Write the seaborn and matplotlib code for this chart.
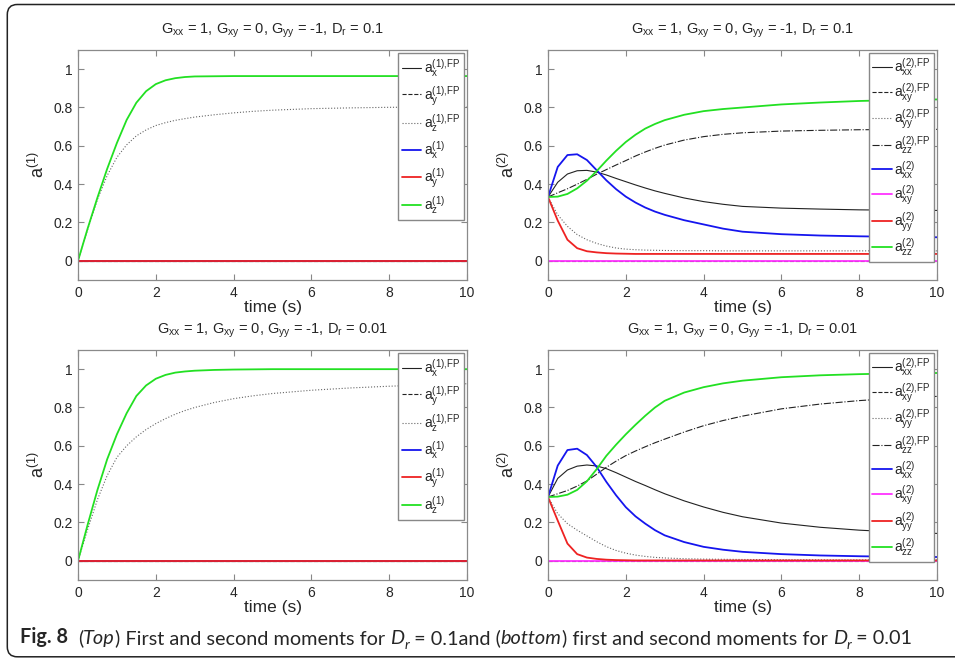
import numpy as np
import seaborn as sns
import matplotlib.pyplot as plt
from matplotlib.patches import FancyBboxPatch

# time samples (s)
t = [0, 0.25, 0.5, 0.75, 1, 1.25, 1.5, 1.75, 2, 2.25, 2.5, 2.75, 3,
     3.5, 4, 4.5, 5, 6, 7, 8, 9, 10]
zeros = [0.0] * len(t)

# first moments, D_r = 0.1
m1_z_fp_01 = [0, 0.165, 0.32, 0.445, 0.54, 0.605, 0.652, 0.683, 0.706, 0.721, 0.733,
              0.742, 0.75, 0.762, 0.772, 0.78, 0.786, 0.794, 0.798, 0.801, 0.802, 0.803]
m1_z_01 = [0, 0.17, 0.33, 0.48, 0.615, 0.735, 0.825, 0.885, 0.922, 0.942, 0.953,
           0.959, 0.962, 0.963, 0.964, 0.964, 0.964, 0.964, 0.964, 0.964, 0.964, 0.964]

# first moments, D_r = 0.01
m1_z_fp_001 = [0, 0.165, 0.32, 0.445, 0.54, 0.6, 0.647, 0.685, 0.716, 0.742, 0.765,
               0.784, 0.8, 0.826, 0.846, 0.861, 0.873, 0.89, 0.902, 0.911, 0.918, 0.924]
m1_z_001 = [0, 0.19, 0.37, 0.53, 0.66, 0.77, 0.86, 0.915, 0.95, 0.97, 0.982,
            0.988, 0.992, 0.996, 0.998, 0.999, 1.0, 1.0, 1.0, 1.0, 1.0, 1.0]

# second moments, D_r = 0.1
m2_xx_fp_01 = [0.333, 0.41, 0.453, 0.47, 0.472, 0.463, 0.448, 0.43, 0.413, 0.396, 0.38,
               0.365, 0.352, 0.328, 0.309, 0.295, 0.284, 0.275, 0.27, 0.266, 0.264, 0.263]
m2_yy_fp_01 = [0.333, 0.24, 0.18, 0.137, 0.11, 0.091, 0.077, 0.067, 0.061, 0.058, 0.056,
               0.055, 0.054, 0.053, 0.053, 0.052, 0.052, 0.052, 0.052, 0.052, 0.052, 0.052]
m2_zz_fp_01 = [0.333, 0.355, 0.376, 0.4, 0.425, 0.452, 0.476, 0.5, 0.523, 0.547, 0.568,
               0.587, 0.604, 0.63, 0.648, 0.66, 0.668, 0.677, 0.681, 0.684, 0.685, 0.686]
m2_xx_01 = [0.333, 0.49, 0.552, 0.556, 0.526, 0.473, 0.42, 0.374, 0.335, 0.304, 0.278,
            0.257, 0.24, 0.212, 0.19, 0.168, 0.152, 0.139, 0.132, 0.128, 0.125, 0.123]
m2_yy_01 = [0.333, 0.21, 0.11, 0.066, 0.05, 0.044, 0.04, 0.038, 0.037, 0.036, 0.036,
            0.036, 0.036, 0.036, 0.036, 0.036, 0.036, 0.036, 0.036, 0.036, 0.036, 0.036]
m2_zz_01 = [0.333, 0.335, 0.349, 0.378, 0.418, 0.468, 0.523, 0.574, 0.62, 0.658, 0.69,
            0.714, 0.734, 0.762, 0.781, 0.792, 0.8, 0.816, 0.826, 0.834, 0.839, 0.842]

# second moments, D_r = 0.01
m2_xx_fp_001 = [0.333, 0.43, 0.474, 0.494, 0.5, 0.495, 0.481, 0.46, 0.437, 0.414, 0.393,
                0.371, 0.35, 0.313, 0.281, 0.253, 0.23, 0.197, 0.175, 0.16, 0.15, 0.143]
m2_yy_fp_001 = [0.333, 0.246, 0.194, 0.16, 0.13, 0.1, 0.074, 0.054, 0.04, 0.03, 0.023,
                0.018, 0.015, 0.011, 0.009, 0.008, 0.007, 0.006, 0.005, 0.005, 0.005, 0.005]
m2_zz_fp_001 = [0.333, 0.35, 0.367, 0.39, 0.417, 0.452, 0.488, 0.52, 0.549, 0.573, 0.595,
                0.616, 0.635, 0.672, 0.705, 0.732, 0.755, 0.793, 0.818, 0.836, 0.849, 0.858]
m2_xx_001 = [0.333, 0.497, 0.578, 0.585, 0.552, 0.49, 0.412, 0.342, 0.28, 0.232, 0.194,
             0.16, 0.133, 0.098, 0.073, 0.058, 0.047, 0.035, 0.028, 0.024, 0.021, 0.02]
m2_yy_001 = [0.333, 0.21, 0.09, 0.035, 0.017, 0.01, 0.006, 0.004, 0.003, 0.002, 0.002,
             0.002, 0.002, 0.002, 0.002, 0.002, 0.002, 0.002, 0.002, 0.002, 0.002, 0.002]
m2_zz_001 = [0.333, 0.335, 0.345, 0.37, 0.415, 0.478, 0.548, 0.606, 0.66, 0.71, 0.757,
             0.8, 0.835, 0.878, 0.906, 0.926, 0.94, 0.958, 0.968, 0.974, 0.978, 0.98]

titles = [r'$G_{xx}$ = 1, $G_{xy}$ = 0, $G_{yy}$ = -1, $D_r$ = 0.1',
          r'$G_{xx}$ = 1, $G_{xy}$ = 0, $G_{yy}$ = -1, $D_r$ = 0.01']
yticks = [0, 0.2, 0.4, 0.6, 0.8, 1]
ytick_labels = ['0', '0.2', '0.4', '0.6', '0.8', '1']

BLUE, RED, GREEN, MAGENTA = '#1515ee', '#ee2222', '#22e022', '#ff33ff'
FP_STYLES = [dict(color='#222222', ls='-', lw=0.8),
             dict(color='#222222', ls='--', lw=0.8),
             dict(color='#666666', ls=':', lw=0.8),
             dict(color='#222222', ls='-.', lw=0.8)]

sns.set_style('ticks')
plt.rcParams['font.family'] = ['Liberation Sans', 'DejaVu Sans']
plt.rcParams['mathtext.fontset'] = 'custom'
plt.rcParams['mathtext.rm'] = 'Liberation Sans'
plt.rcParams['mathtext.it'] = 'Liberation Sans:italic'
plt.rcParams['mathtext.bf'] = 'Liberation Sans:bold'
plt.rcParams['mathtext.default'] = 'rm'

fig = plt.figure(figsize=(9.55, 6.58), dpi=100)
W, H = 955, 658


def make_ax(left, top):
    return fig.add_axes([left / W, 1 - (top + 230) / H, 389 / W, 230 / H])


def style_ax(ax, ylabel, title):
    ax.set_xlim(0, 10)
    ax.set_ylim(-0.1, 1.1)
    ax.set_xticks([0, 2, 4, 6, 8, 10])
    ax.set_yticks(yticks)
    ax.set_yticklabels(ytick_labels)
    ax.tick_params(direction='in', length=4, width=0.8, color='#888888',
                   top=True, right=True, labelsize=10, pad=4)
    for sp in ax.spines.values():
        sp.set_color('#8a8a8a')
        sp.set_linewidth(0.9)
    ax.set_xlabel('time (s)', fontsize=12.5, labelpad=0)
    ax.set_ylabel(ylabel, fontsize=13, labelpad=4)
    ax.set_title(title, fontsize=10.5, pad=12)


def first_moment(ax, z_fp, z, title):
    labels_fp = [r'$a_x^{(1){,}FP}$', r'$a_y^{(1){,}FP}$', r'$a_z^{(1){,}FP}$']
    for vals, st, lab in zip([zeros, zeros, z_fp], FP_STYLES[:3], labels_fp):
        sns.lineplot(x=t, y=vals, ax=ax, label=lab, **st)
    for vals, c, lab in zip([zeros, zeros, z], [BLUE, RED, GREEN],
                            [r'$a_x^{(1)}$', r'$a_y^{(1)}$', r'$a_z^{(1)}$']):
        sns.lineplot(x=t, y=vals, ax=ax, label=lab, color=c, lw=1.3)
    style_ax(ax, r'$a^{(1)}$', title)
    ax.legend(loc='upper right', fontsize=10, frameon=True, fancybox=False,
              edgecolor='#888888', framealpha=1, borderaxespad=0.25,
              handlelength=1.4, handletextpad=0.2, labelspacing=0.35, borderpad=0.25)


def second_moment(ax, xx_fp, yy_fp, zz_fp, xx, yy, zz, title):
    labels_fp = [r'$a_{xx}^{(2){,}FP}$', r'$a_{xy}^{(2){,}FP}$', r'$a_{yy}^{(2){,}FP}$',
                 r'$a_{zz}^{(2){,}FP}$']
    for vals, st, lab in zip([xx_fp, zeros, yy_fp, zz_fp], FP_STYLES, labels_fp):
        sns.lineplot(x=t, y=vals, ax=ax, label=lab, **st)
    for vals, c, lab in zip([xx, zeros, yy, zz], [BLUE, MAGENTA, RED, GREEN],
                            [r'$a_{xx}^{(2)}$', r'$a_{xy}^{(2)}$', r'$a_{yy}^{(2)}$',
                             r'$a_{zz}^{(2)}$']):
        sns.lineplot(x=t, y=vals, ax=ax, label=lab, color=c, lw=1.3)
    style_ax(ax, r'$a^{(2)}$', title)
    ax.legend(loc='upper right', fontsize=10, frameon=True, fancybox=False,
              edgecolor='#888888', framealpha=1, borderaxespad=0.2,
              handlelength=1.4, handletextpad=0.2, labelspacing=0.2, borderpad=0.25)


first_moment(make_ax(78, 50), m1_z_fp_01, m1_z_01, titles[0])
second_moment(make_ax(548, 50), m2_xx_fp_01, m2_yy_fp_01, m2_zz_fp_01,
              m2_xx_01, m2_yy_01, m2_zz_01, titles[0])
first_moment(make_ax(78, 350), m1_z_fp_001, m1_z_001, titles[1])
second_moment(make_ax(548, 350), m2_xx_fp_001, m2_yy_fp_001, m2_zz_fp_001,
              m2_xx_001, m2_yy_001, m2_zz_001, titles[1])

# rounded frame around the figure
fig.add_artist(FancyBboxPatch((0.073, 0.012), 12, 6.523,
                              boxstyle='round,pad=0,rounding_size=0.1',
                              transform=fig.dpi_scale_trans, fill=False,
                              lw=1.1, ec='#222222'))

# caption, built from pieces
cap = fig.add_axes([0, 0, 1, 1])
cap.axis('off')
CAP_FONT = ['Lato', 'DejaVu Sans']
CAP_SIZE = 14.3
SUB_SIZE = 10


def put(prev, s, gap=0, dy=0, size=CAP_SIZE, **kw):
    return cap.annotate(s, xy=(1, 0), xycoords=prev, xytext=(gap, dy),
                        textcoords='offset points', va='bottom', ha='left',
                        family=CAP_FONT, fontsize=size, **kw)


p = cap.text(20 / W, 1 - 647 / H, 'Fig. 8', transform=fig.transFigure, va='bottom',
             ha='left', family=CAP_FONT, fontsize=CAP_SIZE, fontweight='bold')
p = put(p, '(', gap=7)
p = put(p, 'Top', style='italic')
p = put(p, ') First and second moments for ')
p = put(p, 'D', style='italic')
p = put(p, 'r', style='italic', size=SUB_SIZE, dy=-3)
p = put(p, ' = 0.1and (', dy=3)
p = put(p, 'bottom', style='italic')
p = put(p, ') first and second moments for ')
p = put(p, 'D', style='italic')
p = put(p, 'r', style='italic', size=SUB_SIZE, dy=-3)
p = put(p, ' = 0.01', dy=3)

fig.savefig('out.png', dpi=100)
